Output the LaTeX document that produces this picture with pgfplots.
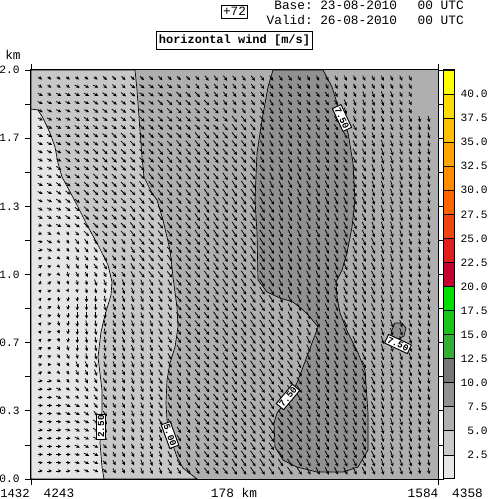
\documentclass[border=0pt]{standalone}
\usepackage{fontspec}
\setmainfont{Liberation Mono}
\usepackage{pgfplots}
\usepackage{pgfplotstable}
\pgfplotsset{compat=1.18}
\usetikzlibrary{arrows.meta}
\definecolor{lA}{HTML}{E6E6E6}
\definecolor{lB}{HTML}{C8C8C8}
\definecolor{lC}{HTML}{AFAFAF}
\definecolor{lD}{HTML}{919191}
\definecolor{lE}{HTML}{777777}
\pgfplotstableread{
y c0 c1 c2 c3 c4 c5 c6 c7 c8 c9 c10 c11 c12 c13 c14 c15 c16 c17 c18 c19 c20 c21 c22 c23 c24 c25 c26 c27 c28 c29 c30 c31 c32 c33 c34 c35 c36 c37 c38 c39 c40 c41 c42
78.2 45 45 45 45 45  45 45 46 46 46  46 46 46 46 46  46 46 46 47 47  47 47 47 47 47  47 47 47 37 37  37 37 37 37 37  37 37 37 37 37  37 28 28
86.4 45 45 45 45 55  55 55 46 46 46  56 56 56 56 56  46 46 47 47 47  47 47 47 47 47  47 47 47 47 37  37 37 37 37 37  37 37 37 37 37  37 28 28
94.5 55 45 55 55 55  55 55 56 56 56  56 56 56 56 56  57 57 57 47 47  47 47 47 47 47  47 47 47 47 47  47 47 37 37 37  38 38 38 38 37  37 28 28
102.7 55 55 55 55 55  55 56 56 56 56  56 56 56 57 57  57 57 57 57 47  47 47 47 47 47  48 48 47 47 47  47 47 47 38 38  38 38 38 38 37  37 28 28
110.9 55 55 55 55 55  55 56 56 56 56  56 56 56 56 57  57 57 57 57 57  47 47 47 47 48  48 48 47 47 47  47 47 47 38 38  38 38 38 38 37  37 28 28
119.1 55 55 55 55 56  56 56 56 56 56  57 57 57 57 57  57 57 57 57 57  57 58 58 58 58  48 48 48 48 48  48 48 48 48 38  38 38 38 38 38  38 28 28
127.3 55 55 55 55 56  56 56 56 56 56  56 57 57 57 57  57 57 57 57 57  58 58 58 58 48  48 48 48 48 48  48 48 48 48 48  38 38 38 38 38  38 28 28
135.5 55 55 55 55 56  56 56 56 57 57  57 57 57 57 57  57 57 58 58 58  58 58 58 48 48  48 48 48 48 48  48 48 48 48 48  48 38 38 38 38  38 28 28
143.6 55 55 55 56 56  56 56 57 57 57  57 57 57 57 57  58 58 58 58 58  58 58 58 48 48  48 48 48 48 48  48 48 48 48 48  48 38 39 38 38  38 28 28
151.8 55 55 55 56 56  56 57 57 57 57  57 57 57 58 58  58 58 58 58 58  58 58 58 48 48  48 48 48 48 48  48 48 48 48 48  48 38 39 39 38  38 28 28
160.0 55 55 55 56 56  56 56 57 57 57  57 57 57 58 58  58 58 58 58 58  58 58 58 58 48  48 48 48 48 48  48 48 48 48 48  38 38 39 39 38  38 28 28
168.2 55 55 56 56 56  56 57 57 57 57  57 57 58 58 58  58 58 58 58 58  58 58 58 58 58  48 49 49 49 48  48 48 48 48 48  48 39 39 39 38  38 28 28
176.4 55 55 56 56 56  57 57 57 57 57  57 57 58 58 58  58 58 58 58 58  59 59 59 58 58  49 49 49 49 49  48 48 48 48 48  48 39 39 39 39  38 29 28
184.5 55 55 56 56 56  57 57 57 57 57  57 58 58 58 58  58 58 58 59 59  59 59 59 59 49  49 49 49 49 49  49 49 49 48 48  48 39 39 39 39  38 29 28
192.7 55 55 56 56 56  57 57 57 57 57  57 58 58 58 58  58 58 59 59 59  59 59 59 59 59  49 49 49 49 49  49 49 49 49 49  49 39 39 39 39  38 29 28
200.9 55 55 56 56 56  57 57 57 57 57  57 58 58 58 58  58 58 58 59 59  59 59 59 59 59  59 49 49 49 49  49 49 49 49 49  49 39 39 39 39  38 28 28
209.1 55 55 55 56 56  57 57 57 57 57  58 58 58 58 58  58 58 59 59 59  59 59 59 59 59  59 49 49 49 49  49 49 49 49 49  49 39 39 39 39  38 28 28
217.3 55 55 55 56 56  57 57 57 57 57  58 58 58 58 58  58 58 59 59 59  59 59 59 59 59  59 49 49 49 49  49 49 49 49 49  49 39 39 39 39  38 28 28
225.5 44 54 55 56 56  57 57 57 57 57  58 58 58 58 58  58 58 59 59 59  59 59 59 59 59  59 49 49 49 49  49 49 49 49 49  49 39 39 39 39  38 28 28
233.6 44 45 35 36 46  57 57 57 57 57  58 58 58 58 58  58 58 59 59 59  59 59 59 59 59  59 49 49 49 49  49 49 49 49 49  49 39 39 39 39  38 28 28
241.8 53 55 35 36 47  47 47 47 47 47  48 58 58 58 58  58 58 58 59 59  59 59 59 59 59  59 49 49 49 49  49 49 49 49 49  49 49 39 39 39  38 28 28
250.0 53 55 35 36 47  47 47 47 47 47  48 58 58 58 58  58 58 58 59 59  59 59 59 59 59  59 49 49 49 49  49 49 49 49 49  49 49 39 39 39  38 28 28
258.2 42 44 35 36 37  47 47 48 47 47  48 58 58 58 58  58 58 58 59 59  59 59 59 59 59  59 49 49 49 49  49 49 49 49 49  49 49 39 39 39  38 28 28
266.4 41 42 35 37 37  37 47 48 47 47  48 58 58 58 58  58 58 58 59 59  59 59 59 59 59  59 49 49 49 49  49 49 49 49 49  49 49 39 39 39  38 28 28
274.5 31 42 35 27 37  37 37 37 47 47  48 58 58 58 58  58 58 58 59 59  59 59 59 59 59  59 49 49 49 49  49 49 49 49 49  49 49 39 39 39  38 28 28
282.7 20 41 36 26 27  27 38 38 38 38  38 38 48 48 48  58 58 58 58 59  59 59 59 59 59  59 49 49 49 49  49 49 49 49 49  49 49 39 39 39  38 38 28
290.9 31 42 35 25 26  27 27 27 38 38  38 38 48 48 48  58 58 58 58 59  59 59 59 59 59  59 49 49 49 49  49 49 49 49 49  49 49 39 39 39  38 38 28
299.1 31 42 17 17 17  18 18 28 38 38  38 38 48 48 48  58 58 58 58 59  59 59 59 59 59  59 49 49 49 49  49 49 49 49 49  49 49 39 39 39  38 38 28
307.3 20 41 27 17 18  18 18 28 38 38  38 38 48 48 48  58 58 58 58 59  59 59 59 59 59  59 49 49 49 49  49 49 49 49 49  49 49 39 39 39  38 38 28
315.5 31 42 27 17 18  18 18 18 38 38  38 38 48 48 48  58 58 58 58 59  59 59 59 59 59  59 49 49 49 49  49 49 49 49 49  49 49 39 39 39  38 38 28
323.6 31 42 27 17 18  28 28 28 38 38  38 38 38 48 48  48 58 58 58 58  59 59 59 59 59  59 59 59 49 49  49 49 49 49 49  49 49 39 39 39  39 38 28
331.8 31 42 26 17 18  28 28 28 38 38  38 38 38 48 48  48 58 58 58 58  59 59 59 59 59  59 59 59 49 49  49 49 49 49 49  49 49 39 39 39  39 38 28
340.0 31 42 26 17 18  28 28 28 38 38  38 38 38 48 48  48 58 58 58 58  59 59 59 59 59  59 59 59 49 49  49 49 49 49 49  49 49 39 39 39  39 38 28
348.2 41 42 36 27 18  28 28 28 38 38  38 38 38 48 48  48 58 58 58 58  59 59 59 59 59  59 59 59 49 49  49 49 49 49 49  49 49 39 39 39  39 38 28
356.4 41 42 36 37 27  28 28 28 38 38  38 38 38 48 48  48 58 58 58 58  59 59 59 59 59  59 59 59 49 49  49 49 49 49 49  49 49 39 39 39  39 38 28
364.5 42 43 36 36 38  38 38 38 38 38  38 38 38 48 48  48 58 58 58 58  59 59 59 59 59  59 59 59 49 49  49 49 49 49 49  49 49 39 39 39  39 38 28
372.7 41 44 35 36 37  37 38 38 37 37  38 38 38 48 48  48 48 58 58 58  59 59 59 59 59  59 59 59 59 49  49 49 49 49 49  49 49 39 39 39  39 38 28
380.9 53 53 45 36 36  37 37 47 37 37  38 38 38 48 48  48 48 58 58 58  59 59 59 59 59  59 59 59 59 49  49 49 49 49 49  49 49 39 39 39  39 38 28
389.1 53 53 55 45 46  47 47 37 37 37  38 38 38 48 48  48 48 58 58 58  59 59 59 59 59  59 59 59 59 49  49 49 49 49 49  49 49 39 39 39  39 38 28
397.3 53 53 55 45 45  46 47 47 37 37  38 38 38 48 48  48 48 58 58 58  59 59 59 59 59  59 59 59 59 49  49 49 49 49 49  49 49 39 39 39  39 38 28
405.5 53 53 53 55 55  46 47 47 37 37  38 38 38 48 48  48 48 58 58 58  59 59 59 59 59  59 59 59 59 49  49 49 49 49 49  49 49 39 39 39  39 38 28
413.6 53 53 54 55 55  56 47 47 37 37  38 38 38 48 48  48 48 58 58 58  59 59 59 59 59  59 59 59 59 49  49 49 49 49 49  49 49 39 39 39  39 38 28
421.8 53 53 53 54 55  55 56 47 37 37  38 38 38 48 48  48 48 58 58 58  59 59 59 59 59  59 59 59 59 49  49 49 49 49 49  49 49 39 39 39  39 38 28
430.0 53 53 53 54 55  55 56 47 37 37  37 38 38 38 48  48 48 48 58 58  58 59 59 59 59  59 59 59 59 49  49 49 49 49 49  49 49 39 39 39  39 28 28
438.2 53 53 53 53 55  55 55 46 37 37  37 38 38 38 48  48 48 48 58 58  58 59 59 59 59  59 59 59 59 49  49 49 49 49 49  49 49 39 39 39  39 28 28
446.4 53 53 53 53 55  55 55 46 37 37  37 38 38 38 48  48 48 48 58 58  58 59 59 59 59  59 59 59 59 49  49 49 49 49 49  49 49 39 39 39  39 28 28
454.5 53 53 53 53 54  55 55 46 37 37  37 38 38 38 48  48 48 48 58 58  58 59 59 59 59  59 59 59 59 49  49 49 49 49 49  49 49 39 39 39  39 28 28
462.7 53 53 53 53 54  55 55 46 37 37  37 38 38 38 48  48 48 48 58 58  58 59 59 59 59  59 59 59 59 49  49 49 49 49 49  49 49 39 39 39  39 28 28
470.9 53 53 53 53 54  55 55 46 37 37  37 38 38 38 48  48 48 48 58 58  58 59 59 59 59  59 59 59 59 49  49 49 49 49 49  49 49 39 39 39  39 28 28
}\windtable
\tikzset{lab/.style={fill=white,draw=black,line width=.7pt,inner xsep=1pt,inner ysep=1.2pt,font=\bfseries\fontsize{7}{7}\selectfont}}
\begin{document}
\begin{tikzpicture}
\useasboundingbox (0,0) rectangle (365.25pt,374.25pt);
\begin{axis}[
  at={(23.25pt,15pt)},anchor=south west,
  width=305.25pt,height=306.75pt,scale only axis,
  xmin=31,xmax=438,ymin=70,ymax=479,y dir=reverse,
  axis background/.style={fill=lC},
  axis on top,clip=false,
  axis line style={line width=.75pt},
  xtick={31,438},xticklabels={},
  tick align=outside,
  major tick length=4.5pt,
  tick style={line width=.6pt,black},
  ytick={70,104.08,138.17,172.25,206.33,240.42,274.5,308.58,342.67,376.75,410.83,444.92,479},
  yticklabels={2.0,,1.7,,1.3,,1.0,,0.7,,0.3,,0.0},
  ticklabel style={font=\fontsize{8.4}{10}\selectfont},
  y tick label style={xshift=-.6pt},
]
\addplot[fill=lB,draw=black,line width=.5pt] coordinates {(31,70)(135,70)(137,90)(139,117)(142,157)(144,177)(152,193)(157,200)(163,220)(170,250)(173,277)(177,307)(178,327)(175,347)(170,363)(167,380)(166,403)(167,420)(170,437)(177,457)(183,468)(197,479)(31,479)} --cycle;
\addplot[fill=lA,draw=black,line width=.5pt] coordinates {(31,109)(38,110)(43,118)(50,133)(55,147)(58,163)(62,177)(68,188)(77,205)(87,225)(98,245)(108,265)(112,282)(111,295)(105,315)(101,332)(98,357)(102,390)(102,410)(100,443)(102,467)(104,479)(31,479)} --cycle;
\addplot[fill=lD,draw=black,line width=.5pt] coordinates {(273,70)(268,87)(262,120)(257,153)(255,200)(257,233)(258,280)(267,292)(280,298)(293,302)(303,310)(310,317)(318,327)(312,343)(303,367)(297,383)(287,400)(277,413)(274,423)(275,447)(283,460)(297,467)(317,472)(343,472)(358,467)(368,450)(368,413)(365,370)(358,353)(348,333)(340,313)(337,297)(336,282)(342,270)(347,253)(352,227)(355,200)(353,163)(348,133)(337,103)(332,87)(323,70)} --cycle;
\addplot[fill=lD,draw=black,line width=.5pt] coordinates {(392,330)(395,323)(402,323)(406,328)(404,336)(396,340)(391,336)} --cycle;
\pgfplotsinvokeforeach{0,...,40}{
  \addplot[black,line width=.6pt,-{Stealth[length=2.6pt,width=2.6pt]},
    quiver={u={1.25*(floor(\thisrow{c#1}/10)-1)},v={1.25*(mod(\thisrow{c#1},10)-3)}}]
    table[x expr={40.25+9.25*#1-0.62*(floor(\thisrow{c#1}/10)-1)},y expr={\thisrow{y}-0.62*(mod(\thisrow{c#1},10)-3)}] {\windtable};
}
\pgfplotsinvokeforeach{41,42}{
  \addplot[black,line width=.6pt,-{Stealth[length=2.6pt,width=2.6pt]},skip coords between index={0}{5},
    quiver={u={1.25*(floor(\thisrow{c#1}/10)-1)},v={1.25*(mod(\thisrow{c#1},10)-3)}}]
    table[x expr={40.25+9.25*#1-0.62*(floor(\thisrow{c#1}/10)-1)},y expr={\thisrow{y}-0.62*(mod(\thisrow{c#1},10)-3)}] {\windtable};
}
\node[lab,rotate=90] at (axis cs:101,426.5) {2.50};
\node[lab,rotate=-70] at (axis cs:170,435) {5.00};
\node[lab,rotate=50] at (axis cs:288,397) {7.50};
\node[lab,rotate=-65] at (axis cs:342,118) {7.50};
\node[lab,rotate=-25] at (axis cs:398,344) {7.50};
\node[draw=black,line width=.5pt,inner xsep=1.4pt,inner ysep=1.8pt,font=\fontsize{9.5}{10}\selectfont] at (axis cs:234.5,11.5) {+72};
\node[draw=black,line width=.5pt,inner xsep=1.6pt,inner ysep=2.6pt,font=\bfseries\fontsize{9}{10}\selectfont] at (axis cs:234.5,40) {horizontal wind [m/s]};
\node[anchor=east,inner sep=0pt,font=\fontsize{9.6}{10}\selectfont] at (axis cs:313,5) {Base:};
\node[anchor=east,inner sep=0pt,font=\fontsize{9.6}{10}\selectfont] at (axis cs:313,20) {Valid:};
\node[anchor=west,inner sep=0pt,font=\fontsize{9.6}{10}\selectfont] at (axis cs:320,5) {23-08-2010};
\node[anchor=west,inner sep=0pt,font=\fontsize{9.6}{10}\selectfont] at (axis cs:320,20) {26-08-2010};
\node[anchor=east,inner sep=0pt,font=\fontsize{9.6}{10}\selectfont] at (axis cs:464,5) {00 UTC};
\node[anchor=east,inner sep=0pt,font=\fontsize{9.6}{10}\selectfont] at (axis cs:464,20) {00 UTC};
\node[inner sep=0pt,font=\fontsize{9.6}{10}\selectfont] at (axis cs:13,55) {km};
\node[inner sep=0pt,font=\fontsize{9.2}{10}\selectfont] at (axis cs:15,493) {1432};
\node[inner sep=0pt,font=\fontsize{9.6}{10}\selectfont] at (axis cs:59,493) {4243};
\node[inner sep=0pt,font=\fontsize{9.6}{10}\selectfont] at (axis cs:234,493) {178 km};
\node[inner sep=0pt,font=\fontsize{9.6}{10}\selectfont] at (axis cs:423,493) {1584};
\node[inner sep=0pt,font=\fontsize{9.6}{10}\selectfont] at (axis cs:467.5,493) {4358};
\end{axis}
\begin{axis}[
  at={(332.25pt,15pt)},anchor=south west,
  width=8.5pt,height=306.75pt,scale only axis,
  xmin=0,xmax=1,ymin=0,ymax=42.5,
  axis line style={line width=.75pt},
  axis on top,
  xtick=\empty,
  ytick={2.5,5,...,40},
  yticklabel pos=right,
  major tick length=0pt,
  yticklabel style={font=\fontsize{8.4}{10}\selectfont,/pgf/number format/fixed,/pgf/number format/fixed zerofill,/pgf/number format/precision=1,/pgf/number format/assume math mode=true,anchor=east,xshift=28.5pt},
]
\addplot[fill=lA,draw=black,line width=.6pt] coordinates {(0,0)(1,0)(1,2.5)(0,2.5)} --cycle;
\addplot[fill=lB,draw=black,line width=.6pt] coordinates {(0,2.5)(1,2.5)(1,5)(0,5)} --cycle;
\addplot[fill=lC,draw=black,line width=.6pt] coordinates {(0,5)(1,5)(1,7.5)(0,7.5)} --cycle;
\addplot[fill=lD,draw=black,line width=.6pt] coordinates {(0,7.5)(1,7.5)(1,10)(0,10)} --cycle;
\addplot[fill=lE,draw=black,line width=.6pt] coordinates {(0,10)(1,10)(1,12.5)(0,12.5)} --cycle;
\addplot[fill={rgb,255:red,51;green,176;blue,51},draw=black,line width=.6pt] coordinates {(0,12.5)(1,12.5)(1,15)(0,15)} --cycle;
\addplot[fill={rgb,255:red,25;green,197;blue,25},draw=black,line width=.6pt] coordinates {(0,15)(1,15)(1,17.5)(0,17.5)} --cycle;
\addplot[fill={rgb,255:red,0;green,221;blue,0},draw=black,line width=.6pt] coordinates {(0,17.5)(1,17.5)(1,20)(0,20)} --cycle;
\addplot[fill={rgb,255:red,200;green,0;blue,50},draw=black,line width=.6pt] coordinates {(0,20)(1,20)(1,22.5)(0,22.5)} --cycle;
\addplot[fill={rgb,255:red,225;green,30;blue,30},draw=black,line width=.6pt] coordinates {(0,22.5)(1,22.5)(1,25)(0,25)} --cycle;
\addplot[fill={rgb,255:red,240;green,70;blue,16},draw=black,line width=.6pt] coordinates {(0,25)(1,25)(1,27.5)(0,27.5)} --cycle;
\addplot[fill={rgb,255:red,255;green,100;blue,0},draw=black,line width=.6pt] coordinates {(0,27.5)(1,27.5)(1,30)(0,30)} --cycle;
\addplot[fill={rgb,255:red,255;green,140;blue,0},draw=black,line width=.6pt] coordinates {(0,30)(1,30)(1,32.5)(0,32.5)} --cycle;
\addplot[fill={rgb,255:red,255;green,165;blue,0},draw=black,line width=.6pt] coordinates {(0,32.5)(1,32.5)(1,35)(0,35)} --cycle;
\addplot[fill={rgb,255:red,255;green,192;blue,0},draw=black,line width=.6pt] coordinates {(0,35)(1,35)(1,37.5)(0,37.5)} --cycle;
\addplot[fill={rgb,255:red,255;green,220;blue,0},draw=black,line width=.6pt] coordinates {(0,37.5)(1,37.5)(1,40)(0,40)} --cycle;
\addplot[fill={rgb,255:red,255;green,255;blue,0},draw=black,line width=.6pt] coordinates {(0,40)(1,40)(1,42.5)(0,42.5)} --cycle;
\end{axis}
\end{tikzpicture}
\end{document}
